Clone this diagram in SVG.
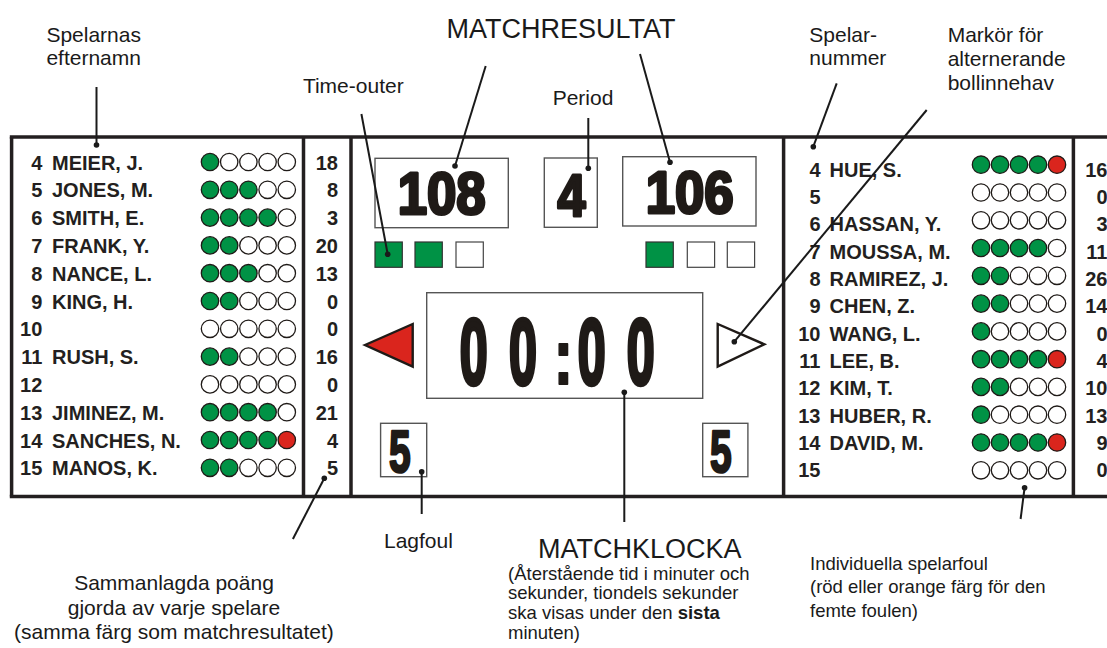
<svg xmlns="http://www.w3.org/2000/svg" width="1107" height="648" viewBox="0 0 1107 648">
<style>
.pn{font-family:"Liberation Sans",Arial,sans-serif;font-weight:bold;font-size:20px;fill:#231f20}
.pe{text-anchor:end}
.lab{font-family:"Liberation Sans",Arial,sans-serif;font-size:21px;fill:#1a1a1a}
.lab2{font-family:"Liberation Sans",Arial,sans-serif;font-size:18.5px;fill:#1a1a1a}
.title{font-family:"Liberation Sans",Arial,sans-serif;font-size:27px;fill:#1a1a1a}
.dig{font-family:"Liberation Sans",Arial,sans-serif;font-weight:bold;fill:#1f1a17;stroke:#1f1a17;stroke-linejoin:round;text-anchor:middle}
.fr{stroke:#231f20;stroke-width:3.5;fill:none}
.box{fill:#fff;stroke:#555;stroke-width:1.4}
.g{fill:#009245;stroke:#1f1a17;stroke-width:1.3}
.w{fill:#fff;stroke:#1f1a17;stroke-width:1.3}
.r{fill:#da251d;stroke:#1f1a17;stroke-width:1.3}
.tg{fill:#009245;stroke:#333;stroke-width:1.2}
.tw{fill:#fff;stroke:#444;stroke-width:1.2}
.ln{stroke:#1a1a1a;stroke-width:2;fill:none}
.dot{fill:#1a1a1a}
</style>

<g id="frame">
  <line class="fr" x1="9.8" y1="137" x2="1107" y2="137"/>
  <line class="fr" x1="9.8" y1="496.5" x2="1107" y2="496.5"/>
  <line class="fr" x1="11.6" y1="137" x2="11.6" y2="496.5"/>
  <line class="fr" x1="303.5" y1="137" x2="303.5" y2="496.5"/>
  <line class="fr" x1="351" y1="137" x2="351" y2="496.5"/>
  <line class="fr" x1="783.6" y1="137" x2="783.6" y2="496.5"/>
  <line class="fr" x1="1073.4" y1="137" x2="1073.4" y2="496.5"/>
</g>

<g id="home-players">
  <g id="home-numbers" class="pn pe">
    <text x="42.3" y="169.5">4</text>
    <text x="42.3" y="197.3">5</text>
    <text x="42.3" y="225.1">6</text>
    <text x="42.3" y="252.9">7</text>
    <text x="42.3" y="280.7">8</text>
    <text x="42.3" y="308.5">9</text>
    <text x="42.3" y="336.3">10</text>
    <text x="42.3" y="364.1">11</text>
    <text x="42.3" y="391.9">12</text>
    <text x="42.3" y="419.7">13</text>
    <text x="42.3" y="447.5">14</text>
    <text x="42.3" y="475.3">15</text>
  </g>
  <g id="home-names" class="pn">
    <text x="52" y="169.5">MEIER, J.</text>
    <text x="52" y="197.3">JONES, M.</text>
    <text x="52" y="225.1">SMITH, E.</text>
    <text x="52" y="252.9">FRANK, Y.</text>
    <text x="52" y="280.7">NANCE, L.</text>
    <text x="52" y="308.5">KING, H.</text>
    <text x="52" y="364.1">RUSH, S.</text>
    <text x="52" y="419.7">JIMINEZ, M.</text>
    <text x="52" y="447.5">SANCHES, N.</text>
    <text x="52" y="475.3">MANOS, K.</text>
  </g>
  <g id="home-fouls">
    <g transform="translate(0,162)"><circle class="g" cx="210" r="8.7"/><circle class="w" cx="229.2" r="8.7"/><circle class="w" cx="248.4" r="8.7"/><circle class="w" cx="267.6" r="8.7"/><circle class="w" cx="286.8" r="8.7"/></g>
    <g transform="translate(0,189.8)"><circle class="g" cx="210" r="8.7"/><circle class="g" cx="229.2" r="8.7"/><circle class="g" cx="248.4" r="8.7"/><circle class="w" cx="267.6" r="8.7"/><circle class="w" cx="286.8" r="8.7"/></g>
    <g transform="translate(0,217.6)"><circle class="g" cx="210" r="8.7"/><circle class="g" cx="229.2" r="8.7"/><circle class="g" cx="248.4" r="8.7"/><circle class="g" cx="267.6" r="8.7"/><circle class="w" cx="286.8" r="8.7"/></g>
    <g transform="translate(0,245.4)"><circle class="g" cx="210" r="8.7"/><circle class="g" cx="229.2" r="8.7"/><circle class="w" cx="248.4" r="8.7"/><circle class="w" cx="267.6" r="8.7"/><circle class="w" cx="286.8" r="8.7"/></g>
    <g transform="translate(0,273.2)"><circle class="g" cx="210" r="8.7"/><circle class="g" cx="229.2" r="8.7"/><circle class="g" cx="248.4" r="8.7"/><circle class="w" cx="267.6" r="8.7"/><circle class="w" cx="286.8" r="8.7"/></g>
    <g transform="translate(0,301)"><circle class="g" cx="210" r="8.7"/><circle class="g" cx="229.2" r="8.7"/><circle class="w" cx="248.4" r="8.7"/><circle class="w" cx="267.6" r="8.7"/><circle class="w" cx="286.8" r="8.7"/></g>
    <g transform="translate(0,328.8)"><circle class="w" cx="210" r="8.7"/><circle class="w" cx="229.2" r="8.7"/><circle class="w" cx="248.4" r="8.7"/><circle class="w" cx="267.6" r="8.7"/><circle class="w" cx="286.8" r="8.7"/></g>
    <g transform="translate(0,356.6)"><circle class="g" cx="210" r="8.7"/><circle class="g" cx="229.2" r="8.7"/><circle class="w" cx="248.4" r="8.7"/><circle class="w" cx="267.6" r="8.7"/><circle class="w" cx="286.8" r="8.7"/></g>
    <g transform="translate(0,384.4)"><circle class="w" cx="210" r="8.7"/><circle class="w" cx="229.2" r="8.7"/><circle class="w" cx="248.4" r="8.7"/><circle class="w" cx="267.6" r="8.7"/><circle class="w" cx="286.8" r="8.7"/></g>
    <g transform="translate(0,412.2)"><circle class="g" cx="210" r="8.7"/><circle class="g" cx="229.2" r="8.7"/><circle class="g" cx="248.4" r="8.7"/><circle class="g" cx="267.6" r="8.7"/><circle class="w" cx="286.8" r="8.7"/></g>
    <g transform="translate(0,440)"><circle class="g" cx="210" r="8.7"/><circle class="g" cx="229.2" r="8.7"/><circle class="g" cx="248.4" r="8.7"/><circle class="g" cx="267.6" r="8.7"/><circle class="r" cx="286.8" r="8.7"/></g>
    <g transform="translate(0,467.8)"><circle class="g" cx="210" r="8.7"/><circle class="g" cx="229.2" r="8.7"/><circle class="w" cx="248.4" r="8.7"/><circle class="w" cx="267.6" r="8.7"/><circle class="w" cx="286.8" r="8.7"/></g>
  </g>
  <g id="home-points" class="pn pe">
    <text x="338" y="169.5">18</text>
    <text x="338" y="197.3">8</text>
    <text x="338" y="225.1">3</text>
    <text x="338" y="252.9">20</text>
    <text x="338" y="280.7">13</text>
    <text x="338" y="308.5">0</text>
    <text x="338" y="336.3">0</text>
    <text x="338" y="364.1">16</text>
    <text x="338" y="391.9">0</text>
    <text x="338" y="419.7">21</text>
    <text x="338" y="447.5">4</text>
    <text x="338" y="475.3">5</text>
  </g>
</g>

<g id="guest-players">
  <g id="guest-numbers" class="pn pe">
    <text x="820.5" y="176.5">4</text>
    <text x="820.5" y="203.8">5</text>
    <text x="820.5" y="231.2">6</text>
    <text x="820.5" y="258.5">7</text>
    <text x="820.5" y="285.9">8</text>
    <text x="820.5" y="313.2">9</text>
    <text x="820.5" y="340.5">10</text>
    <text x="820.5" y="367.9">11</text>
    <text x="820.5" y="395.2">12</text>
    <text x="820.5" y="422.6">13</text>
    <text x="820.5" y="449.9">14</text>
    <text x="820.5" y="477.2">15</text>
  </g>
  <g id="guest-names" class="pn">
    <text x="829.5" y="176.5">HUE, S.</text>
    <text x="829.5" y="231.2">HASSAN, Y.</text>
    <text x="829.5" y="258.5">MOUSSA, M.</text>
    <text x="829.5" y="285.9">RAMIREZ, J.</text>
    <text x="829.5" y="313.2">CHEN, Z.</text>
    <text x="829.5" y="340.5">WANG, L.</text>
    <text x="829.5" y="367.9">LEE, B.</text>
    <text x="829.5" y="395.2">KIM, T.</text>
    <text x="829.5" y="422.6">HUBER, R.</text>
    <text x="829.5" y="449.9">DAVID, M.</text>
  </g>
  <g id="guest-fouls">
    <g transform="translate(0,164.7)"><circle class="g" cx="981" r="8.7"/><circle class="g" cx="1000" r="8.7"/><circle class="g" cx="1019" r="8.7"/><circle class="g" cx="1038" r="8.7"/><circle class="r" cx="1057" r="8.7"/></g>
    <g transform="translate(0,192.5)"><circle class="w" cx="981" r="8.7"/><circle class="w" cx="1000" r="8.7"/><circle class="w" cx="1019" r="8.7"/><circle class="w" cx="1038" r="8.7"/><circle class="w" cx="1057" r="8.7"/></g>
    <g transform="translate(0,220.3)"><circle class="w" cx="981" r="8.7"/><circle class="w" cx="1000" r="8.7"/><circle class="w" cx="1019" r="8.7"/><circle class="w" cx="1038" r="8.7"/><circle class="w" cx="1057" r="8.7"/></g>
    <g transform="translate(0,248)"><circle class="g" cx="981" r="8.7"/><circle class="g" cx="1000" r="8.7"/><circle class="g" cx="1019" r="8.7"/><circle class="g" cx="1038" r="8.7"/><circle class="w" cx="1057" r="8.7"/></g>
    <g transform="translate(0,275.8)"><circle class="g" cx="981" r="8.7"/><circle class="g" cx="1000" r="8.7"/><circle class="w" cx="1019" r="8.7"/><circle class="w" cx="1038" r="8.7"/><circle class="w" cx="1057" r="8.7"/></g>
    <g transform="translate(0,303.6)"><circle class="g" cx="981" r="8.7"/><circle class="g" cx="1000" r="8.7"/><circle class="w" cx="1019" r="8.7"/><circle class="w" cx="1038" r="8.7"/><circle class="w" cx="1057" r="8.7"/></g>
    <g transform="translate(0,331.4)"><circle class="g" cx="981" r="8.7"/><circle class="w" cx="1000" r="8.7"/><circle class="w" cx="1019" r="8.7"/><circle class="w" cx="1038" r="8.7"/><circle class="w" cx="1057" r="8.7"/></g>
    <g transform="translate(0,359.2)"><circle class="g" cx="981" r="8.7"/><circle class="g" cx="1000" r="8.7"/><circle class="g" cx="1019" r="8.7"/><circle class="g" cx="1038" r="8.7"/><circle class="r" cx="1057" r="8.7"/></g>
    <g transform="translate(0,386.9)"><circle class="g" cx="981" r="8.7"/><circle class="g" cx="1000" r="8.7"/><circle class="w" cx="1019" r="8.7"/><circle class="w" cx="1038" r="8.7"/><circle class="w" cx="1057" r="8.7"/></g>
    <g transform="translate(0,414.7)"><circle class="g" cx="981" r="8.7"/><circle class="w" cx="1000" r="8.7"/><circle class="w" cx="1019" r="8.7"/><circle class="w" cx="1038" r="8.7"/><circle class="w" cx="1057" r="8.7"/></g>
    <g transform="translate(0,442.5)"><circle class="g" cx="981" r="8.7"/><circle class="g" cx="1000" r="8.7"/><circle class="g" cx="1019" r="8.7"/><circle class="g" cx="1038" r="8.7"/><circle class="r" cx="1057" r="8.7"/></g>
    <g transform="translate(0,470.3)"><circle class="w" cx="981" r="8.7"/><circle class="w" cx="1000" r="8.7"/><circle class="w" cx="1019" r="8.7"/><circle class="w" cx="1038" r="8.7"/><circle class="w" cx="1057" r="8.7"/></g>
  </g>
  <g id="guest-points" class="pn pe">
    <text x="1107.5" y="176.5">16</text>
    <text x="1107.5" y="203.8">0</text>
    <text x="1107.5" y="231.2">3</text>
    <text x="1107.5" y="258.5">11</text>
    <text x="1107.5" y="285.9">26</text>
    <text x="1107.5" y="313.2">14</text>
    <text x="1107.5" y="340.5">0</text>
    <text x="1107.5" y="367.9">4</text>
    <text x="1107.5" y="395.2">10</text>
    <text x="1107.5" y="422.6">13</text>
    <text x="1107.5" y="449.9">9</text>
    <text x="1107.5" y="477.2">0</text>
  </g>
</g>

<g id="score-home">
  <rect class="box" x="375" y="158.3" width="133.3" height="69.4"/>
  <text class="dig" transform="translate(441.7,214.4) scale(0.88,1)" font-size="60" stroke-width="3.2">108</text>
</g>
<g id="period">
  <rect class="box" x="544.3" y="158" width="53" height="69.3"/>
  <text class="dig" transform="translate(571.5,215.7) scale(0.84,1)" font-size="60" stroke-width="3.2">4</text>
</g>
<g id="score-guest">
  <rect class="box" x="622.7" y="156.7" width="133.3" height="69.3"/>
  <text class="dig" transform="translate(689.7,213.4) scale(0.88,1)" font-size="60" stroke-width="3.2">106</text>
</g>

<g id="timeouts-home">
  <rect class="tg" x="375" y="242" width="27.3" height="25.3"/>
  <rect class="tg" x="415" y="242" width="27.3" height="25.3"/>
  <rect class="tw" x="456" y="242" width="27.3" height="25.3"/>
</g>
<g id="timeouts-guest">
  <rect class="tg" x="646" y="242" width="27.3" height="25.3"/>
  <rect class="tw" x="687.3" y="242" width="27.3" height="25.3"/>
  <rect class="tw" x="727.3" y="242" width="27.3" height="25.3"/>
</g>

<g id="possession-home">
  <polygon points="365,345 412.7,324 412.7,366.7" fill="#da251d" stroke="#1f1a17" stroke-width="2.4"/>
</g>
<g id="possession-guest">
  <polygon points="717.7,324 717.7,366.7 764.3,344.3" fill="#fff" stroke="#1f1a17" stroke-width="2.4"/>
</g>

<g id="game-clock">
  <rect class="box" x="426.7" y="292.7" width="276" height="105.6"/>
  <text class="dig" transform="translate(473.7,383.5) scale(0.54,1)" font-size="93" stroke-width="4.5">0</text>
  <text class="dig" transform="translate(523,383.5) scale(0.54,1)" font-size="93" stroke-width="4.5">0</text>
  <text class="dig" transform="translate(563.3,383.5) scale(0.75,1)" font-size="79" stroke-width="2">:</text>
  <text class="dig" transform="translate(591.7,383.5) scale(0.54,1)" font-size="93" stroke-width="4.5">0</text>
  <text class="dig" transform="translate(640.7,383.5) scale(0.54,1)" font-size="93" stroke-width="4.5">0</text>
</g>

<g id="team-fouls-home">
  <rect class="box" x="380.6" y="423.3" width="46.1" height="53.4"/>
  <text class="dig" transform="translate(399.7,472.3) scale(0.66,1)" font-size="59" stroke-width="2.6">5</text>
</g>
<g id="team-fouls-guest">
  <rect class="box" x="702.7" y="423.3" width="45.2" height="53.4"/>
  <text class="dig" transform="translate(720.8,472.3) scale(0.66,1)" font-size="59" stroke-width="2.6">5</text>
</g>

<g id="connectors">
  <line class="ln" x1="96.5" y1="87" x2="96.5" y2="145"/><circle class="dot" cx="96.5" cy="145" r="2.8"/>
  <line class="ln" x1="361.4" y1="114" x2="387.7" y2="254.3"/><circle class="dot" cx="387.7" cy="254.3" r="2.8"/>
  <line class="ln" x1="485.7" y1="66" x2="455" y2="166"/><circle class="dot" cx="455" cy="166" r="2.8"/>
  <line class="ln" x1="640" y1="54" x2="670" y2="162.3"/><circle class="dot" cx="670" cy="162.3" r="2.8"/>
  <line class="ln" x1="588.3" y1="118" x2="588.3" y2="168.3"/><circle class="dot" cx="588.3" cy="168.3" r="2.8"/>
  <line class="ln" x1="836.7" y1="83.3" x2="813.3" y2="146.7"/><circle class="dot" cx="813.3" cy="146.7" r="2.8"/>
  <line class="ln" x1="926.7" y1="110" x2="734.3" y2="341.7"/><circle class="dot" cx="734.3" cy="341.7" r="2.8"/>
  <line class="ln" x1="421.7" y1="471.7" x2="421.7" y2="514"/><circle class="dot" cx="421.7" cy="471.7" r="2.8"/>
  <line class="ln" x1="324.3" y1="478.3" x2="292.9" y2="539"/><circle class="dot" cx="324.3" cy="478.3" r="2.8"/>
  <line class="ln" x1="624.3" y1="392.3" x2="624.3" y2="522"/><circle class="dot" cx="624.3" cy="392.3" r="2.8"/>
  <line class="ln" x1="1024.6" y1="487.7" x2="1020.6" y2="519"/><circle class="dot" cx="1024.6" cy="487.7" r="2.8"/>
</g>

<g id="labels">
  <text class="lab" x="46.4" y="41.5">Spelarnas</text>
  <text class="lab" x="46.4" y="64.5">efternamn</text>
  <text class="title" x="446.4" y="38">MATCHRESULTAT</text>
  <text class="lab" x="302.9" y="93">Time-outer</text>
  <text class="lab" x="552.7" y="105">Period</text>
  <text class="lab" x="809.3" y="41.7">Spelar-</text>
  <text class="lab" x="809.3" y="65">nummer</text>
  <text class="lab" x="947.7" y="41.7">Markör för</text>
  <text class="lab" x="947.7" y="65.5">alternerande</text>
  <text class="lab" x="947.7" y="89.5">bollinnehav</text>
  <text class="lab" x="384" y="548">Lagfoul</text>
  <text class="lab" text-anchor="middle" x="174" y="590">Sammanlagda poäng</text>
  <text class="lab" text-anchor="middle" x="174" y="614.5">gjorda av varje spelare</text>
  <text class="lab" text-anchor="middle" x="174" y="639">(samma färg som matchresultatet)</text>
  <text class="title" x="538" y="557.5">MATCHKLOCKA</text>
  <text class="lab2" x="508" y="579.5">(Återstående tid i minuter och</text>
  <text class="lab2" x="508" y="599.3">sekunder, tiondels sekunder</text>
  <text class="lab2" x="508" y="619.1">ska visas under den <tspan font-weight="bold">sista</tspan></text>
  <text class="lab2" x="508" y="638.9">minuten)</text>
  <text class="lab2" x="810" y="569.7">Individuella spelarfoul</text>
  <text class="lab2" x="810" y="593.3">(röd eller orange färg för den</text>
  <text class="lab2" x="810" y="616.9">femte foulen)</text>
</g>
</svg>
